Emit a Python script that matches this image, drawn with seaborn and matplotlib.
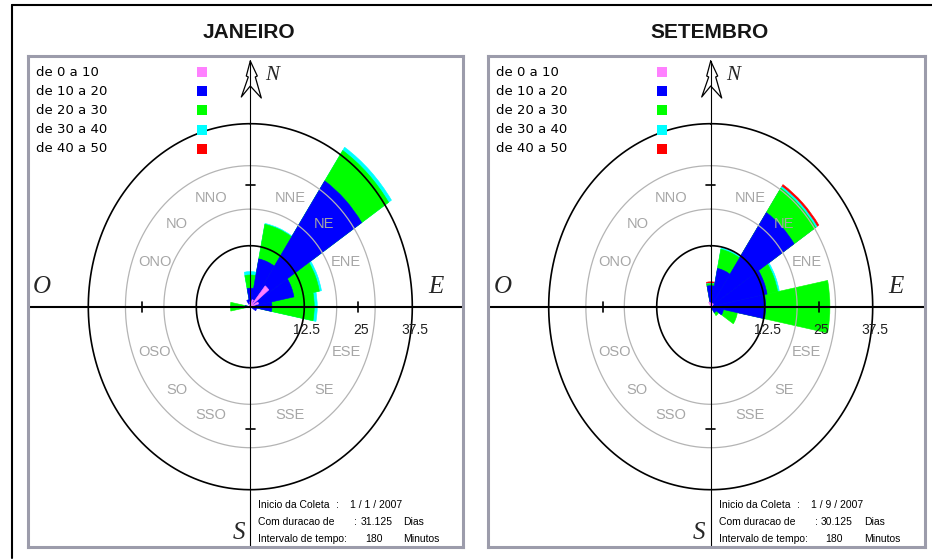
import numpy as np
import matplotlib
matplotlib.use("Agg")
import matplotlib.pyplot as plt
from matplotlib.patches import Rectangle
import seaborn as sns

# ---------------------------------------------------------------- data
directions = ["N", "NNE", "NE", "ENE", "E", "ESE", "SE", "SSE",
              "S", "SSO", "SO", "OSO", "O", "ONO", "NO", "NNO"]
speed_classes = ["de 0 a 10", "de 10 a 20", "de 20 a 30", "de 30 a 40", "de 40 a 50"]
class_colors = ["#ff80ff", "#0000ff", "#00ff00", "#00ffff", "#ff0000"]

# Frequency (%) of each speed class per direction - January 2007
jan_0_10 = [1.0, 1.5, 5.5, 2.0, 1.0, 0.5, 0, 0, 0, 0, 0, 0, 0.5, 0, 0, 0.5]
jan_10_20 = [2.8, 8.5, 25.5, 8.3, 4.0, 1.0, 0, 0, 0, 0, 0, 0, 0.7, 0, 0, 1.0]
jan_20_30 = [2.7, 7.2, 7.5, 6.0, 9.8, 0, 0, 0, 0, 0, 0, 0, 3.4, 0, 0, 0]
jan_30_40 = [0.7, 0.2, 0.8, 0.5, 0.7, 0, 0, 0, 0, 0, 0, 0, 0, 0, 0, 0]
jan_40_50 = [0, 0, 0, 0, 0, 0, 0, 0, 0, 0, 0, 0, 0, 0, 0, 0]

# Frequency (%) of each speed class per direction - September 2007
set_0_10 = [0.8, 0.8, 0.8, 0.5, 0.5, 0.3, 0.2, 0, 0, 0, 0, 0, 0, 0, 0, 1.0]
set_10_20 = [3.5, 7.2, 22.4, 12.8, 12.2, 2.7, 1.3, 0, 0, 0, 0, 0, 0, 0, 0, 0]
set_20_30 = [0.4, 4.0, 6.0, 2.5, 14.9, 3.3, 0.7, 0, 0, 0, 0, 0, 0, 0, 0, 0]
set_30_40 = [0.1, 0.3, 0.4, 0.4, 0, 0, 0, 0, 0, 0, 0, 0, 0, 0, 0, 0]
set_40_50 = [0.3, 0, 0.5, 0, 0, 0, 0, 0, 0, 0, 0, 0, 0, 0, 0, 0]

ring_ticks = [12.5, 25, 37.5]

panels = [
    dict(title="JANEIRO", cx=250.3, box=(28, 463),
         classes=[jan_0_10, jan_10_20, jan_20_30, jan_30_40, jan_40_50],
         start="1 / 1 / 2007", days="31.125", interval="180"),
    dict(title="SETEMBRO", cx=710.7, box=(488, 925),
         classes=[set_0_10, set_10_20, set_20_30, set_30_40, set_40_50],
         start="1 / 9 / 2007", days="30.125", interval="180"),
]

# ---------------------------------------------------------------- layout
sns.set_theme(style="white")
plt.rcParams["font.family"] = ["Liberation Sans", "DejaVu Sans"]

W, H = 932, 560
SX, SY = 4.32, 4.88          # pixels per percent (horizontal / vertical)
CY = 306.7
BOX_TOP, BOX_BOTTOM = 56, 547
R_MAX = 42

fig = plt.figure(figsize=(W / 100, H / 100), dpi=100)
fig.patch.set_facecolor("white")


def fig_rect(x0, y0, x1, y1):
    return [x0 / W, 1 - y1 / H, (x1 - x0) / W, (y1 - y0) / H]


base = fig.add_axes([0, 0, 1, 1], zorder=0)
base.set_xlim(0, W)
base.set_ylim(H, 0)
base.axis("off")
base.plot([12, 12], [5, 558], color="black", lw=1.5)
base.plot([12, W], [5, 5], color="black", lw=1.5)

theta = np.deg2rad(np.arange(len(directions)) * 22.5)
ring = np.linspace(0, 2 * np.pi, 400)

for p in panels:
    cx = p["cx"]
    x0, x1 = p["box"]

    def u(px):
        return (px - cx) / SX

    def v(py):
        return (CY - py) / SY

    base.text(cx - 1.5, 32, p["title"], ha="center", va="center",
              fontsize=15, fontweight="bold", color="#151515")

    # ---- wind rose bars
    pax = fig.add_axes(fig_rect(cx - R_MAX * SX, CY - R_MAX * SY,
                                cx + R_MAX * SX, CY + R_MAX * SY),
                       projection="polar", zorder=2)
    pax.set_aspect("auto")
    pax.set_theta_zero_location("N")
    pax.set_theta_direction(-1)

    vals = np.array(p["classes"], dtype=float)
    cum = np.cumsum(vals, axis=0)
    for k in reversed(range(len(speed_classes))):
        heights = np.where(vals[k] > 0, cum[k], 0.0)
        sns.barplot(x=theta, y=heights, native_scale=True,
                    width=0.55 if k == 0 else 1.0,
                    color=class_colors[k], saturation=1, errorbar=None,
                    edgecolor=class_colors[k], linewidth=0.4, ax=pax)

    for r, col, lw in [(20, "#b4b4b4", 0.9), (28.9, "#b4b4b4", 0.9),
                       (12.5, "black", 1.2), (37.5, "black", 1.2)]:
        pax.plot(ring, np.full_like(ring, r), color=col, lw=lw, zorder=4)

    for d, th in zip(directions, theta):
        if d in ("N", "E", "S", "O"):
            continue
        pax.text(th, 24, d, ha="center", va="center", fontsize=10.5,
                 color="#a6a6a6", zorder=5)

    pax.set_ylim(0, R_MAX)
    pax.axis("off")

    # ---- overlay: axes cross, ticks, labels, legend, info
    oax = fig.add_axes(fig_rect(x0, BOX_TOP, x1, BOX_BOTTOM), zorder=3)
    oax.set_xlim(u(x0), u(x1))
    oax.set_ylim(v(BOX_BOTTOM), v(BOX_TOP))
    oax.patch.set_alpha(0)
    oax.set_xticks([])
    oax.set_yticks([])
    for s in oax.spines.values():
        s.set_color("#9c9cab")
        s.set_linewidth(2.2)

    oax.axhline(0, color="black", lw=1.5)
    oax.plot([0, 0], [v(BOX_BOTTOM), v(61)], color="black", lw=0.8)
    for t in (-25, 25):
        oax.plot([t, t], [-1.0, 1.0], color="black", lw=1.2)
        oax.plot([-1.0, 1.0], [t, t], color="black", lw=1.2)
    for t in ring_ticks:
        oax.text(t + 0.6, -4.8, f"{t:g}", ha="center", va="center",
                 fontsize=10, color="#202020")

    serif = dict(family=["Liberation Serif", "DejaVu Serif"], style="italic")
    oax.text(-48.2, 4.0, "O", ha="center", va="center", fontsize=18, **serif)
    oax.text(42.9, 4.0, "E", ha="center", va="center", fontsize=18, **serif)
    oax.text(-2.7, -46.4, "S", ha="center", va="center", fontsize=18, **serif)
    oax.text(u(cx + 22), v(76), "N", ha="center", va="center", fontsize=15, **serif)

    arrow_px = [(0, 61), (-4, 76), (-2, 77), (-9, 97), (0, 86),
                (11, 98), (5, 77), (7, 76), (0, 61)]
    oax.plot([u(cx + a) for a, b in arrow_px], [v(b) for a, b in arrow_px],
             color="black", lw=0.9)

    for i, (lab, col) in enumerate(zip(speed_classes, class_colors)):
        yp = 72 + 19.2 * i
        oax.text(u(x0 + 8), v(yp), lab, ha="left", va="center",
                 fontsize=9.5, family=["DejaVu Sans"], color="black")
        oax.add_patch(Rectangle((u(x0 + 169), v(yp + 5)), 10 / SX, 10 / SY,
                                facecolor=col, edgecolor="none"))

    info = dict(ha="left", va="center", fontsize=7.5, color="black")
    oax.text(u(cx + 8), v(505), "Inicio da Coleta", **info)
    oax.text(u(cx + 86), v(505), ":", **info)
    oax.text(u(cx + 100), v(505), p["start"], **info)
    oax.text(u(cx + 8), v(522), "Com duracao de", **info)
    oax.text(u(cx + 104), v(522), ":", **info)
    oax.text(u(cx + 110), v(522), p["days"], **info)
    oax.text(u(cx + 153), v(522), "Dias", **info)
    oax.text(u(cx + 8), v(539), "Intervalo de tempo:", **info)
    oax.text(u(cx + 115), v(539), p["interval"], **info)
    oax.text(u(cx + 153), v(539), "Minutos", **info)

fig.savefig("out.png", dpi=100, facecolor="white")
